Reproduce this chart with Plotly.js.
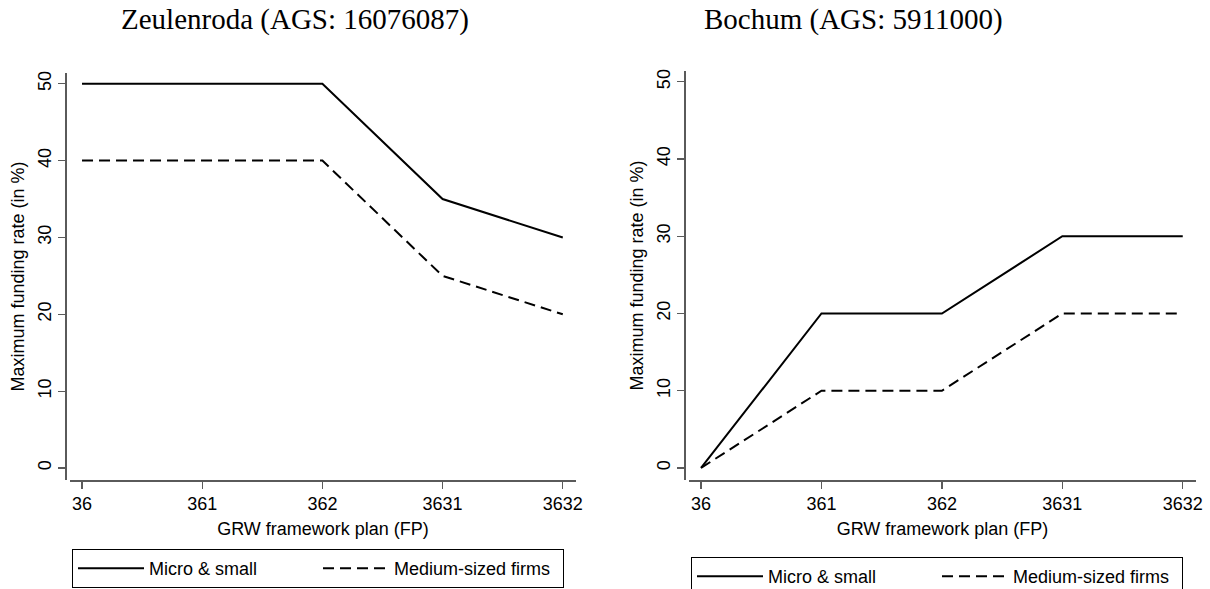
<!DOCTYPE html>
<html>
<head>
<meta charset="utf-8">
<script src="https://cdn.plot.ly/plotly-3.0.1.min.js"></script>
<style>
  html, body { margin: 0; padding: 0; background: #fff; overflow: hidden; }
  #chart { width: 1210px; height: 589px; }
</style>
</head>
<body>
<div id="chart"></div>
<script>
// ---- data ----
var categories = ["36", "361", "362", "3631", "3632"];
var zeulenrodaMicroSmall = [50, 50, 50, 35, 30];
var zeulenrodaMedium = [40, 40, 40, 25, 20];
var bochumMicroSmall = [0, 20, 20, 30, 30];
var bochumMedium = [0, 10, 10, 20, 20];
var yTicks = [0, 10, 20, 30, 40, 50];
var seriesNames = ["Micro & small", "Medium-sized firms"];
var panelTitles = ["Zeulenroda (AGS: 16076087)", "Bochum (AGS: 5911000)"];
var xTitle = "GRW framework plan (FP)";
var yTitle = "Maximum funding rate (in %)";

var W = 1210, H = 589;
function px(x) { return x / W; }
function py(y) { return (H - y) / H; }

var solid = { color: "#000", width: 2, dash: "solid" };
var dashed = { color: "#000", width: 2, dash: "11px,6px" };

var traces = [
  { x: categories, y: zeulenrodaMicroSmall, name: seriesNames[0], mode: "lines",
    line: solid, xaxis: "x", yaxis: "y", legend: "legend" },
  { x: categories, y: zeulenrodaMedium, name: seriesNames[1], mode: "lines",
    line: dashed, xaxis: "x", yaxis: "y", legend: "legend" },
  { x: categories, y: bochumMicroSmall, name: seriesNames[0], mode: "lines",
    line: solid, xaxis: "x2", yaxis: "y2", legend: "legend2" },
  { x: categories, y: bochumMedium, name: seriesNames[1], mode: "lines",
    line: dashed, xaxis: "x2", yaxis: "y2", legend: "legend2" }
];

var axisColor = "#5a5a5a";
var sans = "Liberation Sans, Arial, sans-serif";
var tickFont = { family: sans, size: 18, color: "#000" };
var titleFont = { family: sans, size: 18, color: "#000" };

function xAxis(domain, yName) {
  return {
    type: "category", domain: domain, anchor: yName, range: [-0.1, 4.11],
    showgrid: false, zeroline: false,
    showline: true, linecolor: axisColor, linewidth: 1.5,
    ticks: "outside", ticklen: 7, tickwidth: 1.3, tickcolor: axisColor,
    tickfont: tickFont,
    title: { text: xTitle, font: titleFont, standoff: 9 }
  };
}
function yAxis(domain, pos) {
  return {
    domain: domain, anchor: "free", position: pos, range: [-1.56, 51.4],
    tickvals: yTicks,
    showgrid: false, zeroline: false,
    showline: true, linecolor: axisColor, linewidth: 1.5,
    ticks: "outside", ticklen: 7, tickwidth: 1.3, tickcolor: axisColor,
    tickangle: -90, tickfont: tickFont,
    title: { text: yTitle, font: titleFont, standoff: 4 }
  };
}

var legendBase = {
  orientation: "h",
  font: { family: sans, size: 18, color: "#000" },
  bordercolor: "#000", borderwidth: 1, bgcolor: "#fff",
  xanchor: "left", yanchor: "top",
  entrywidth: 164, entrywidthmode: "pixels", itemwidth: 66
};

var layout = {
  width: W, height: H,
  margin: { l: 0, r: 0, t: 0, b: 0, autoexpand: false },
  paper_bgcolor: "#fff", plot_bgcolor: "#fff",
  showlegend: true,
  xaxis: xAxis([px(70), px(576)], "y"),
  yaxis: yAxis([py(480), py(73)], px(65)),
  xaxis2: xAxis([px(689), px(1196)], "y2"),
  yaxis2: yAxis([py(480), py(71)], px(684)),
  legend: Object.assign({}, legendBase, { x: px(72), y: py(549) }),
  legend2: Object.assign({}, legendBase, { x: px(691), y: py(557) }),
  annotations: [
    { text: panelTitles[0], x: px(295), y: py(20), xref: "paper", yref: "paper",
      xanchor: "center", yanchor: "middle", showarrow: false,
      font: { family: "Liberation Serif, Times New Roman, serif", size: 29, color: "#000" } },
    { text: panelTitles[1], x: px(853), y: py(20), xref: "paper", yref: "paper",
      xanchor: "center", yanchor: "middle", showarrow: false,
      font: { family: "Liberation Serif, Times New Roman, serif", size: 29, color: "#000" } }
  ]
};

Plotly.newPlot("chart", traces, layout, { displayModeBar: false, staticPlot: true });
</script>
</body>
</html>
